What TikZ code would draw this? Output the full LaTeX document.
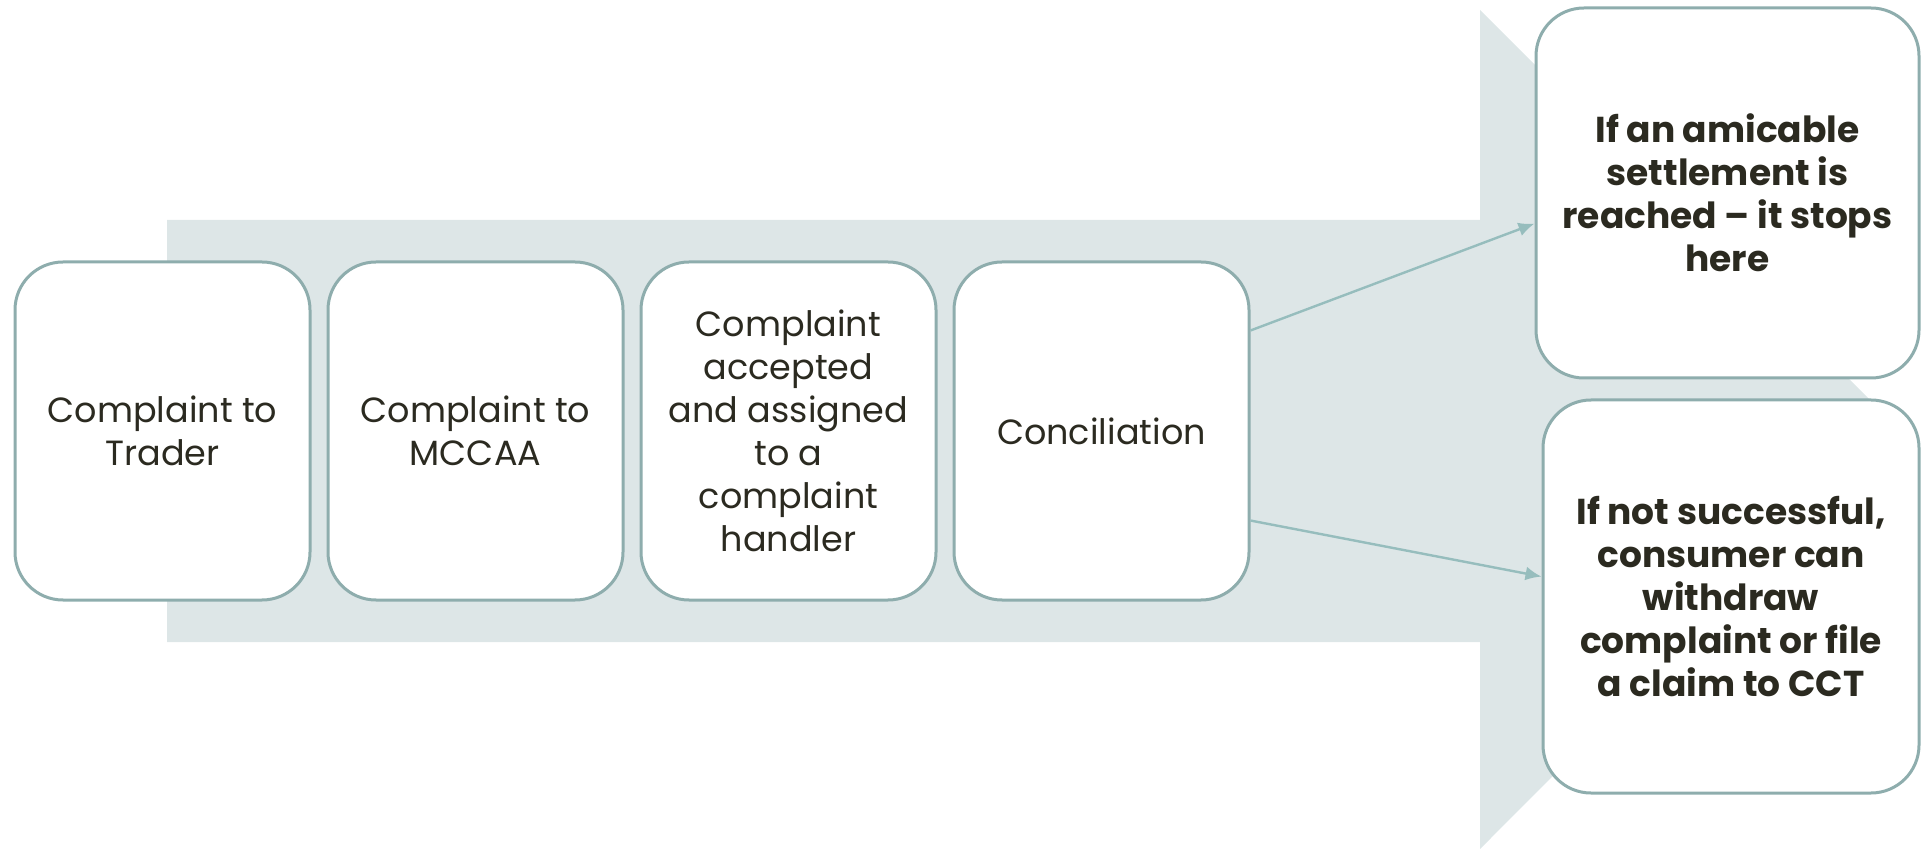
\documentclass[tikz,border=0pt]{standalone}
\usepackage{fontspec}
\setmainfont{Poppins}
\usetikzlibrary{positioning,arrows.meta}
\definecolor{bandgray}{HTML}{DDE6E7}
\definecolor{edgeteal}{HTML}{8EADAD}
\definecolor{linkteal}{HTML}{96BDBD}
\definecolor{inkdark}{HTML}{2B2A20}

\begin{document}
\begin{tikzpicture}[x=0.5pt,y=-0.5pt,
	node distance=7.5pt,
	stage/.style={draw=edgeteal,line width=1.5pt,fill=white,rounded corners=24pt,
		minimum width=147.5pt,minimum height=169pt,align=center,text=inkdark,
		font=\fontsize{17.5}{21.5}\selectfont},
	outcome/.style={stage,font=\fontsize{18}{21.5}\selectfont\bfseries},
	link/.style={draw=linkteal,line width=1.2pt,-{Latex[length=8pt,width=7pt]}}]
	\useasboundingbox (0,0) rectangle (1921,849);
	% big background arrow
	\fill[bandgray] (167,220) -- (1480,220) -- (1480,10) -- (1899,429)
		-- (1480,849) -- (1480,642) -- (167,642) -- cycle;
	\node[stage] (trader) at (162.5,431) {Complaint to\\Trader};
	\node[stage,right=of trader] (mccaa) {Complaint to\\MCCAA};
	\node[stage,right=of mccaa] (assigned) {Complaint\\accepted\\and assigned\\to a\\complaint\\handler};
	\node[stage,right=of assigned] (concil) {Conciliation};
	\node[outcome,minimum width=191.5pt,minimum height=185pt] (amicable) at (1727.5,193)
		{If an amicable\\settlement is\\reached -- it stops\\here};
	\node[outcome,minimum width=188pt,minimum height=196.5pt] (notok) at (1731,596.5)
		{If not successful,\\consumer can\\withdraw\\complaint or file\\a claim to CCT};
	\draw[link] (concil.34) -- (amicable.189.5);
	\draw[link] (concil.-31) -- (notok.174);
\end{tikzpicture}
\end{document}
